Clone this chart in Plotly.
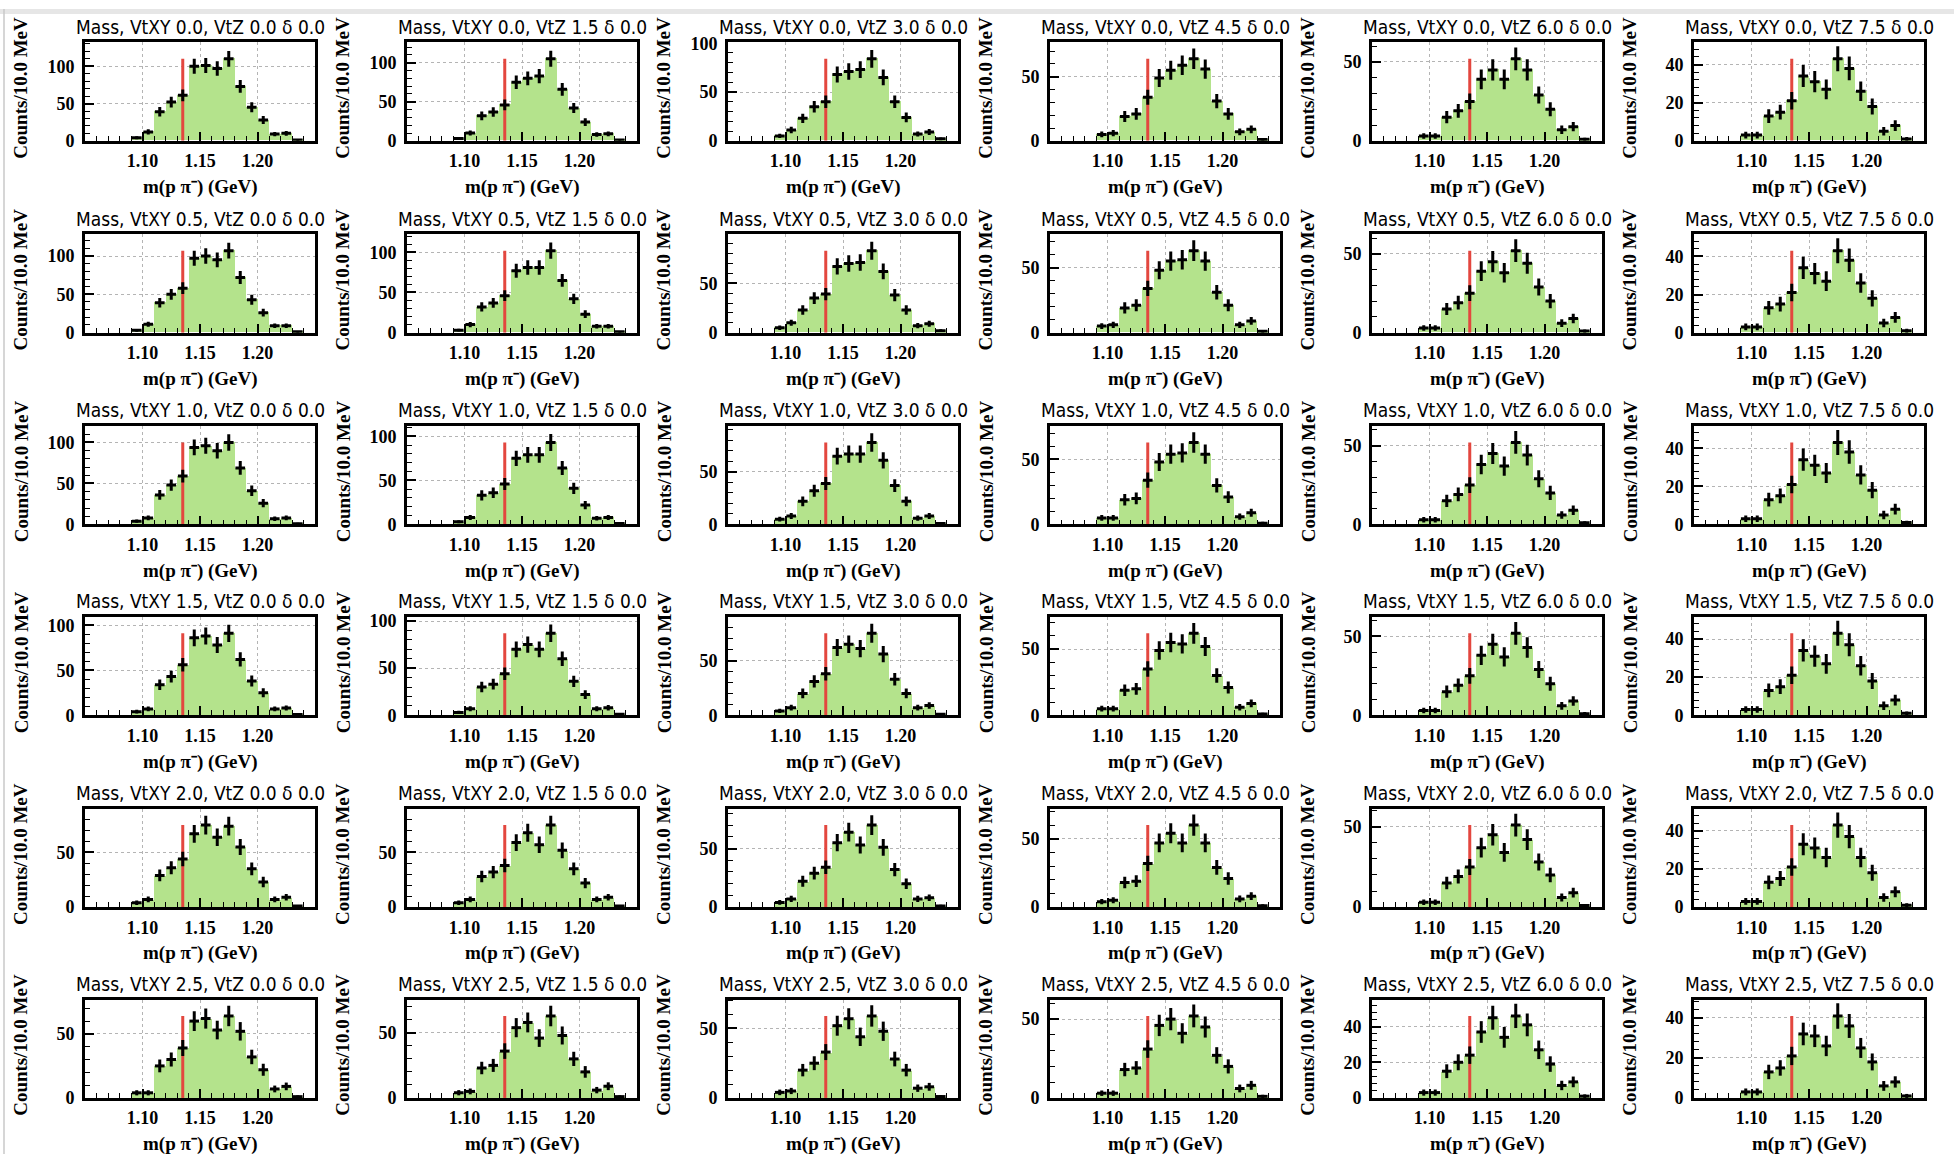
import math
import plotly.graph_objects as go

# ---------------- data ----------------
BIN_CENTERS = [1.095, 1.105, 1.115, 1.125, 1.135, 1.145, 1.155, 1.165,
               1.175, 1.185, 1.195, 1.205, 1.215, 1.225, 1.235]
BIN_WIDTH = 0.01
VTXY_LABELS = ["0.0", "0.5", "1.0", "1.5", "2.0", "2.5"]
VTZ_LABELS = ["0.0", "1.5", "3.0", "4.5", "6.0", "7.5"]
DELTA_LABEL = "0.0"
RED_LINE_MASS = 1.135
X_TICKS = [1.10, 1.15, 1.20]
X_TICK_TEXT = ["1.10", "1.15", "1.20"]

# counts per panel, one list per VtZ value (columns), per VtXY row
COUNTS_VTXY_00 = [
    [4, 12, 39, 52, 61, 100, 101, 97, 110, 73, 45, 28, 9, 10, 1],
    [3, 10, 32, 37, 46, 75, 80, 83, 105, 66, 42, 24, 8, 9, 1],
    [5, 11, 23, 35, 40, 68, 71, 73, 84, 65, 40, 24, 7, 9, 2],
    [5, 6, 19, 21, 34, 49, 55, 59, 64, 56, 31, 21, 7, 9, 1],
    [3, 3, 15, 19, 25, 39, 45, 39, 52, 45, 29, 20, 7, 9, 1],
    [3, 3, 13, 15, 21, 34, 31, 27, 43, 38, 26, 18, 5, 8, 1],
]
COUNTS_VTXY_05 = [
    [3, 11, 39, 50, 58, 97, 100, 95, 107, 72, 43, 26, 9, 9, 1],
    [3, 10, 32, 37, 46, 77, 81, 81, 102, 65, 42, 23, 8, 8, 1],
    [5, 10, 23, 35, 39, 67, 70, 71, 83, 62, 38, 23, 7, 9, 2],
    [5, 6, 19, 21, 34, 48, 55, 56, 63, 55, 31, 21, 6, 9, 1],
    [3, 3, 15, 19, 25, 39, 45, 38, 52, 44, 29, 20, 6, 9, 1],
    [3, 3, 13, 15, 21, 34, 31, 27, 43, 38, 26, 18, 5, 8, 1],
]
COUNTS_VTXY_10 = [
    [4, 8, 36, 48, 59, 94, 96, 90, 100, 69, 41, 26, 7, 8, 1],
    [3, 8, 33, 36, 46, 75, 79, 79, 93, 64, 41, 22, 7, 8, 1],
    [5, 8, 22, 32, 39, 65, 67, 67, 78, 61, 37, 22, 6, 8, 1],
    [5, 5, 19, 20, 34, 48, 54, 55, 63, 54, 30, 21, 6, 9, 1],
    [3, 3, 15, 19, 25, 38, 45, 37, 52, 44, 29, 20, 6, 9, 1],
    [3, 3, 13, 15, 21, 34, 31, 27, 43, 38, 26, 18, 5, 8, 1],
]
COUNTS_VTXY_15 = [
    [4, 7, 34, 43, 56, 86, 88, 78, 91, 62, 38, 25, 7, 8, 1],
    [3, 7, 30, 33, 44, 70, 75, 70, 87, 60, 36, 22, 7, 8, 1],
    [4, 7, 20, 31, 38, 62, 65, 61, 75, 56, 33, 20, 7, 9, 1],
    [5, 5, 19, 20, 35, 49, 55, 54, 62, 52, 30, 21, 6, 9, 1],
    [3, 3, 15, 19, 25, 38, 45, 37, 52, 43, 29, 20, 6, 9, 1],
    [3, 3, 13, 15, 21, 34, 31, 27, 43, 37, 26, 18, 5, 8, 1],
]
COUNTS_VTXY_20 = [
    [4, 7, 29, 36, 44, 67, 75, 64, 74, 55, 35, 23, 7, 9, 1],
    [4, 7, 28, 32, 38, 59, 68, 57, 75, 52, 35, 22, 7, 9, 1],
    [4, 7, 22, 29, 34, 55, 64, 53, 70, 51, 32, 20, 7, 8, 1],
    [4, 5, 18, 19, 32, 47, 54, 47, 60, 47, 29, 21, 6, 8, 1],
    [3, 3, 15, 19, 25, 37, 45, 34, 51, 42, 28, 20, 6, 9, 1],
    [3, 3, 13, 15, 21, 33, 31, 26, 43, 37, 26, 18, 5, 8, 1],
]
COUNTS_VTXY_25 = [
    [4, 4, 25, 30, 39, 60, 62, 53, 64, 52, 32, 22, 7, 9, 1],
    [4, 5, 23, 25, 36, 54, 58, 46, 63, 48, 30, 20, 6, 9, 1],
    [4, 5, 20, 25, 33, 52, 57, 44, 59, 48, 28, 20, 7, 8, 1],
    [3, 3, 18, 19, 31, 46, 50, 41, 52, 45, 27, 20, 6, 8, 1],
    [3, 3, 15, 20, 24, 37, 45, 34, 46, 41, 27, 19, 7, 9, 1],
    [3, 3, 13, 15, 21, 32, 31, 26, 41, 36, 25, 18, 6, 8, 1],
]
COUNTS_BY_ROW = [COUNTS_VTXY_00, COUNTS_VTXY_05, COUNTS_VTXY_10,
                 COUNTS_VTXY_15, COUNTS_VTXY_20, COUNTS_VTXY_25]

# ---------------- layout (pixels) ----------------
FIG_W, FIG_H = 1954, 1164
COL_X0 = [85, 407, 728, 1050, 1372, 1694]
ROW_Y0 = [34, 229, 424, 618, 813, 1007]
PW, PH = 230, 100

GREEN = "#b4e38c"
RED = "#e3473f"
SERIF = "Liberation Serif, Times New Roman, serif"
TITLE_FONT = "Liberation Sans Narrow, DejaVu Sans Condensed, Roboto Condensed, Liberation Sans, sans-serif"


def px(x):
    return x / FIG_W


def py(y):
    return 1 - y / FIG_H


fig = go.Figure()
annotations = []
layout_axes = {}

k = 0
for r, row_counts in enumerate(COUNTS_BY_ROW):
    for c, counts in enumerate(row_counts):
        k += 1
        xa = "x" if k == 1 else f"x{k}"
        ya = "y" if k == 1 else f"y{k}"
        xname = "xaxis" if k == 1 else f"xaxis{k}"
        yname = "yaxis" if k == 1 else f"yaxis{k}"
        x0, y0 = COL_X0[c], ROW_Y0[r]
        cmax = max(counts)
        ytop = 1.2 * cmax
        ydt = 50 if ytop >= 58 else 20

        fig.add_trace(go.Bar(
            x=BIN_CENTERS, y=counts, width=BIN_WIDTH,
            marker=dict(color=GREEN, line=dict(width=0)),
            xaxis=xa, yaxis=ya, showlegend=False, hoverinfo="skip"))
        fig.add_trace(go.Scatter(
            x=[RED_LINE_MASS, RED_LINE_MASS], y=[0, cmax], mode="lines",
            line=dict(color=RED, width=3), xaxis=xa, yaxis=ya,
            showlegend=False, hoverinfo="skip"))
        fig.add_trace(go.Scatter(
            x=BIN_CENTERS, y=counts, mode="markers",
            marker=dict(size=1, color="black"),
            error_y=dict(type="data", array=[math.sqrt(v) for v in counts],
                         thickness=3, width=0, color="black"),
            error_x=dict(type="constant", value=0.0042,
                         thickness=3, width=0, color="black"),
            xaxis=xa, yaxis=ya, showlegend=False, hoverinfo="skip"))

        common = dict(showline=True, linewidth=2.8, linecolor="black", mirror=True,
                      ticks="inside", tickcolor="black", tickwidth=1.5,
                      showgrid=True, gridcolor="#b4b4b4", griddash="dot", gridwidth=1,
                      zeroline=False,
                      tickfont=dict(family=SERIF, size=18, color="black", weight="bold"))
        layout_axes[xname] = dict(
            domain=[px(x0), px(x0 + PW)], anchor=ya, range=[1.05, 1.25],
            tickmode="array", tickvals=X_TICKS, ticktext=X_TICK_TEXT, ticklen=9,
            ticklabelstandoff=2,
            minor=dict(dtick=0.01, tick0=1.05, ticks="inside", ticklen=5,
                       tickcolor="black", tickwidth=1.2, showgrid=False),
            **common)
        layout_axes[yname] = dict(
            domain=[py(y0 + PH), py(y0)], anchor=xa, range=[0, ytop],
            tick0=0, dtick=ydt, ticklen=9, ticklabelstandoff=4,
            minor=dict(dtick=ydt / 5, ticks="inside", ticklen=5,
                       tickcolor="black", tickwidth=1.2, showgrid=False),
            **common)

        annotations.append(dict(
            x=px(x0 + PW / 2), y=py(y0 - 16), xref="paper", yref="paper",
            text=f"Mass, VtXY {VTXY_LABELS[r]}, VtZ {VTZ_LABELS[c]} δ {DELTA_LABEL}",
            showarrow=False, xanchor="center", yanchor="middle",
            font=dict(family=TITLE_FONT, size=19, color="black")))
        annotations.append(dict(
            x=px(x0 + PW / 2), y=py(y0 + PH + 47), xref="paper", yref="paper",
            text="m(p π⁻) (GeV)", showarrow=False,
            xanchor="center", yanchor="middle",
            font=dict(family=SERIF, size=19, color="black", weight="bold")))
        annotations.append(dict(
            x=px(x0 - 64), y=py(y0 + PH / 2 - 4), xref="paper", yref="paper",
            text="Counts/10.0 MeV", showarrow=False, textangle=-90,
            xanchor="center", yanchor="middle",
            font=dict(family=SERIF, size=19, color="black", weight="bold")))

fig.update_layout(
    width=FIG_W, height=FIG_H, margin=dict(l=0, r=0, t=0, b=0),
    paper_bgcolor="white", plot_bgcolor="white",
    bargap=0, barmode="overlay",
    annotations=annotations,
    shapes=[
        dict(type="rect", xref="paper", yref="paper", x0=0, x1=1, y0=py(5), y1=1,
             fillcolor="#e6e6e6", line=dict(width=0)),
        dict(type="line", xref="paper", yref="paper", x0=px(4), x1=px(4), y0=0, y1=1,
             line=dict(color="#c8c8c8", width=1.5)),
    ],
    **layout_axes)

fig.write_html("out.html")
